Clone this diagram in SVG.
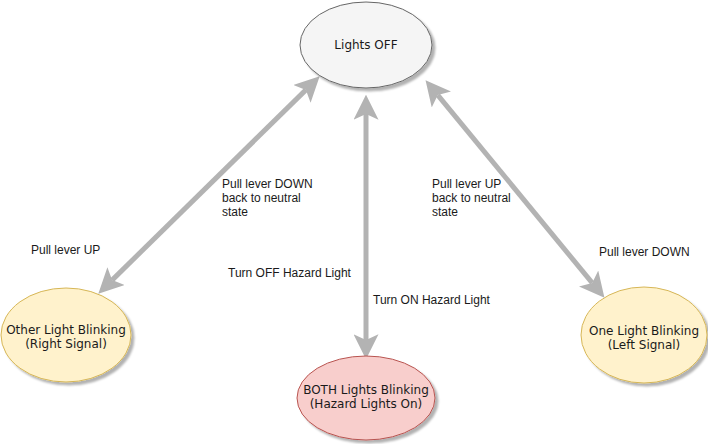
<svg xmlns="http://www.w3.org/2000/svg" width="708" height="444" viewBox="0 0 708 444">
<style>
.node-text{font-family:"DejaVu Sans",Verdana,sans-serif;font-size:12px;fill:#1a1a1a;text-anchor:middle}
.lbl{font-family:"Liberation Sans",Arial,sans-serif;font-size:12px;fill:#1a1a1a}
.conn{stroke:#b3b3b3;stroke-width:5;fill:none;marker-start:url(#ah);marker-end:url(#ah)}
</style>
<defs>
<filter id="sh" x="-10%" y="-10%" width="130%" height="130%">
<feDropShadow dx="3" dy="3" stdDeviation="1" flood-color="#000" flood-opacity="0.3"/>
</filter>
<marker id="ah" markerUnits="userSpaceOnUse" markerWidth="25" markerHeight="25" viewBox="0 0 22 22" refX="5" refY="11" orient="auto-start-reverse">
<path d="M0,0 L22,11 L0,22 L5,11 Z" fill="#b3b3b3"/>
</marker>
</defs>
<rect width="708" height="444" fill="#ffffff"/>
<g id="connectors">
<line class="conn" x1="305.9" y1="89.9" x2="112.1" y2="280.1"/>
<line class="conn" x1="366" y1="114" x2="366" y2="340"/>
<line class="conn" x1="437.8" y1="95.1" x2="592.2" y2="282.9"/>
</g>
<g id="labels">
<text class="lbl" x="31" y="254">Pull lever UP</text>
<text class="lbl" x="222" y="188">Pull lever DOWN</text>
<text class="lbl" x="222" y="202">back to neutral</text>
<text class="lbl" x="222" y="216">state</text>
<text class="lbl" x="228" y="277">Turn OFF Hazard Light</text>
<text class="lbl" x="373" y="304">Turn ON Hazard Light</text>
<text class="lbl" x="432" y="188">Pull lever UP</text>
<text class="lbl" x="432" y="202">back to neutral</text>
<text class="lbl" x="432" y="216">state</text>
<text class="lbl" x="599" y="256">Pull lever DOWN</text>
</g>
<g id="lights-off">
<ellipse cx="366" cy="45" rx="66" ry="43" fill="#f5f5f5" stroke="#666666" filter="url(#sh)"/>
<text class="node-text" x="366" y="49">Lights OFF</text>
</g>
<g id="other-light">
<ellipse cx="66" cy="335" rx="65" ry="47" fill="#fff2cc" stroke="#d6b656" filter="url(#sh)"/>
<text class="node-text" x="66" y="334">Other Light Blinking</text>
<text class="node-text" x="66" y="348">(Right Signal)</text>
</g>
<g id="one-light">
<ellipse cx="644" cy="335" rx="63" ry="48" fill="#fff2cc" stroke="#d6b656" filter="url(#sh)"/>
<text class="node-text" x="644" y="335">One Light Blinking</text>
<text class="node-text" x="644" y="349">(Left Signal)</text>
</g>
<g id="both-lights">
<ellipse cx="366" cy="398" rx="69" ry="42" fill="#f8cecc" stroke="#b85450" filter="url(#sh)"/>
<text class="node-text" x="366" y="394">BOTH Lights Blinking</text>
<text class="node-text" x="366" y="408">(Hazard Lights On)</text>
</g>
</svg>
